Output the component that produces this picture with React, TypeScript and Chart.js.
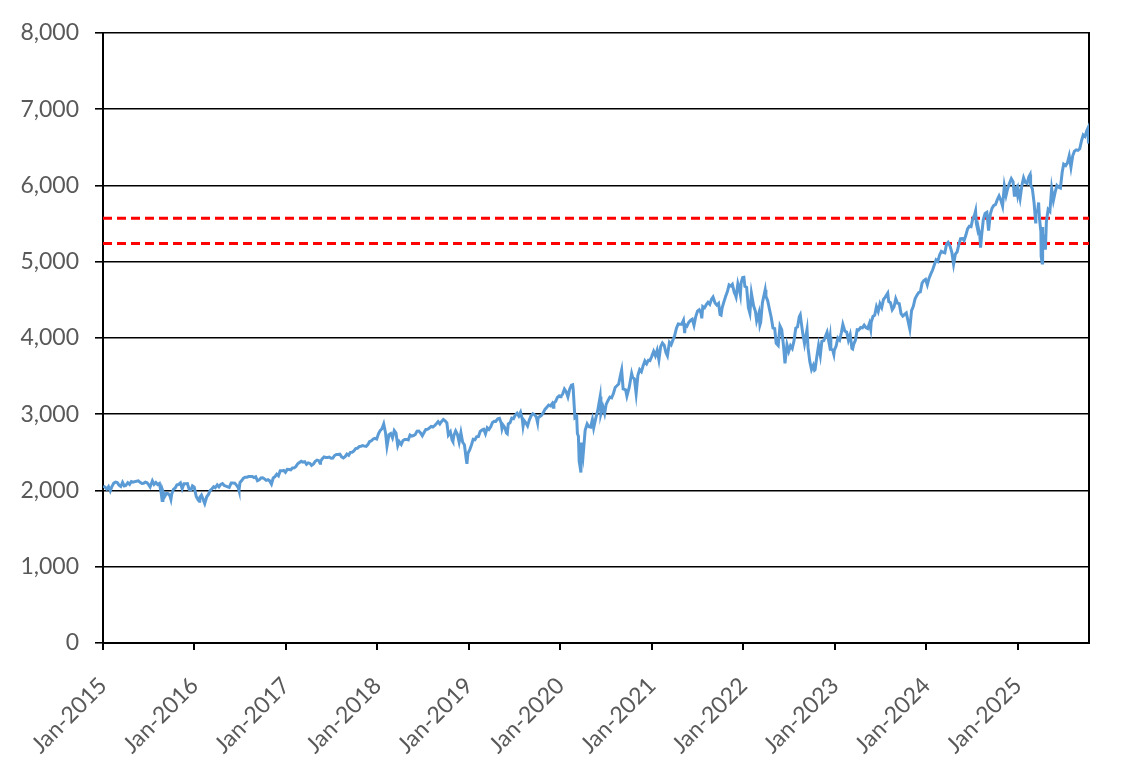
import React, { useEffect, useRef } from "react";
import { Chart, registerables } from "chart.js";

Chart.register(...registerables);

// S&P 500 index level, approximate weekly closes (dates MM-DD per year)
const dates2015: string[] = ["01-02","01-09","01-16","01-23","01-30","02-06","02-13","02-20","02-27","03-06","03-13","03-20","03-27","04-02","04-10","04-17","04-24","05-01","05-08","05-15","05-22","05-29","06-05","06-12","06-19","06-26","07-02","07-08","07-17","07-24","07-31","08-07","08-14","08-21","08-25","08-28","09-04","09-11","09-18","09-25","09-29","10-02","10-09","10-16","10-23","10-30","11-06","11-13","11-20","11-27","12-04","12-11","12-18","12-24","12-31"];
const values2015: number[] = [2058,2045,2019,2051,1995,2055,2097,2110,2104,2071,2053,2108,2061,2067,2102,2081,2117,2108,2116,2122,2126,2107,2092,2094,2110,2102,2077,2047,2127,2079,2104,2078,2092,1971,1868,1989,1921,1961,1958,1931,1884,1951,2015,2033,2075,2079,2099,2023,2089,2090,2092,2012,2006,2061,2044];

const dates2016: string[] = ["01-08","01-15","01-20","01-22","01-29","02-05","02-11","02-19","02-26","03-04","03-11","03-18","03-24","04-01","04-08","04-15","04-22","04-29","05-06","05-13","05-19","05-27","06-03","06-10","06-17","06-24","06-27","07-01","07-08","07-15","07-22","07-29","08-05","08-12","08-19","08-26","09-02","09-09","09-16","09-23","09-30","10-07","10-14","10-21","10-28","11-04","11-11","11-18","11-25","12-02","12-09","12-16","12-23","12-30"];
const values2016: number[] = [1922,1880,1859,1907,1940,1880,1829,1918,1948,2000,2022,2050,2036,2073,2048,2081,2092,2065,2057,2047,2040,2099,2099,2096,2071,2037,2001,2103,2130,2162,2175,2174,2183,2184,2184,2169,2180,2128,2139,2165,2168,2153,2133,2141,2126,2085,2164,2182,2213,2192,2259,2258,2264,2239];

const dates2017: string[] = ["01-06","01-13","01-20","01-27","02-03","02-10","02-17","02-24","03-03","03-10","03-17","03-24","03-31","04-07","04-13","04-21","04-28","05-05","05-12","05-17","05-19","05-26","06-02","06-09","06-16","06-23","06-30","07-07","07-14","07-21","07-28","08-04","08-11","08-18","08-25","09-01","09-08","09-15","09-22","09-29","10-06","10-13","10-20","10-27","11-03","11-10","11-17","11-24","12-01","12-08","12-15","12-22","12-29"];
const values2017: number[] = [2277,2275,2271,2295,2297,2316,2351,2367,2383,2372,2378,2344,2363,2355,2329,2349,2384,2399,2391,2357,2382,2416,2439,2432,2433,2438,2423,2425,2459,2473,2472,2477,2441,2426,2444,2477,2461,2500,2502,2519,2549,2553,2575,2581,2588,2582,2579,2602,2642,2652,2675,2683,2674];

const dates2018: string[] = ["01-05","01-12","01-19","01-26","02-02","02-08","02-16","02-23","03-02","03-09","03-16","03-23","03-29","04-06","04-13","04-20","04-27","05-04","05-11","05-18","05-25","06-01","06-08","06-15","06-22","06-29","07-06","07-13","07-20","07-27","08-03","08-10","08-17","08-24","08-31","09-07","09-14","09-21","09-28","10-05","10-11","10-19","10-26","10-29","11-02","11-09","11-16","11-23","11-30","12-07","12-14","12-21","12-24","12-28","12-31"];
const values2018: number[] = [2743,2786,2810,2873,2762,2581,2732,2747,2691,2786,2752,2588,2641,2604,2656,2670,2670,2663,2728,2713,2721,2735,2779,2780,2755,2718,2760,2801,2802,2819,2840,2833,2850,2875,2902,2872,2905,2930,2914,2886,2728,2768,2658,2641,2723,2781,2736,2633,2760,2633,2600,2417,2351,2486,2507];

const dates2019: string[] = ["01-04","01-11","01-18","01-25","02-01","02-08","02-15","02-22","03-01","03-08","03-15","03-22","03-29","04-05","04-12","04-18","04-26","05-03","05-10","05-13","05-17","05-24","05-31","06-03","06-07","06-14","06-21","06-28","07-05","07-12","07-19","07-26","08-02","08-05","08-09","08-16","08-23","08-30","09-06","09-13","09-20","09-27","10-02","10-04","10-11","10-18","10-25","11-01","11-08","11-15","11-22","11-29","12-03","12-06","12-13","12-20","12-27","12-31"];
const values2019: number[] = [2532,2596,2671,2665,2707,2708,2775,2793,2804,2743,2822,2801,2834,2893,2907,2905,2940,2946,2881,2812,2860,2826,2752,2744,2873,2887,2950,2942,2990,3014,2977,3026,2932,2844,2919,2889,2847,2926,2979,3007,2992,2962,2888,2953,2970,2986,3023,3067,3093,3120,3110,3141,3093,3146,3169,3221,3240,3231];

const dates2020: string[] = ["01-03","01-10","01-17","01-24","01-31","02-07","02-14","02-19","02-21","02-28","03-06","03-09","03-13","03-16","03-20","03-23","03-26","04-01","04-09","04-17","04-24","05-01","05-08","05-13","05-22","05-29","06-08","06-11","06-19","06-26","07-02","07-10","07-17","07-24","07-31","08-07","08-14","08-21","08-28","09-02","09-08","09-18","09-23","10-02","10-12","10-16","10-23","10-30","11-06","11-13","11-20","11-27","12-04","12-11","12-18","12-24","12-31"];
const values2020: number[] = [3235,3265,3330,3295,3226,3328,3380,3386,3338,2954,2972,2747,2711,2386,2305,2237,2630,2471,2790,2875,2837,2831,2930,2820,2955,3044,3232,3002,3098,3009,3130,3185,3225,3216,3271,3351,3373,3397,3508,3580,3332,3319,3237,3348,3535,3484,3465,3270,3510,3585,3558,3638,3699,3663,3709,3703,3756];

const dates2021: string[] = ["01-08","01-15","01-22","01-29","02-05","02-12","02-19","02-26","03-04","03-12","03-19","03-26","04-01","04-09","04-16","04-23","04-30","05-07","05-12","05-14","05-21","05-28","06-04","06-11","06-18","06-25","07-02","07-09","07-16","07-19","07-23","07-30","08-06","08-13","08-20","08-27","09-02","09-10","09-17","09-24","09-30","10-04","10-08","10-15","10-22","10-29","11-05","11-12","11-18","11-26","11-30","12-03","12-10","12-17","12-20","12-23","12-29"];
const values2021: number[] = [3825,3768,3841,3714,3887,3934,3907,3811,3768,3943,3913,3975,4020,4129,4185,4180,4181,4232,4063,4174,4156,4204,4230,4247,4166,4281,4352,4370,4327,4258,4412,4395,4437,4468,4442,4509,4537,4459,4433,4455,4308,4300,4391,4471,4545,4605,4697,4682,4704,4595,4567,4538,4712,4620,4568,4725,4793];

const dates2022: string[] = ["01-03","01-07","01-14","01-21","01-27","02-02","02-11","02-18","02-23","03-04","03-08","03-11","03-18","03-29","04-01","04-08","04-14","04-22","04-29","05-06","05-12","05-20","05-27","06-03","06-10","06-16","06-24","07-01","07-08","07-15","07-22","07-29","08-05","08-12","08-16","08-19","08-26","09-02","09-12","09-16","09-23","09-30","10-07","10-12","10-14","10-21","10-28","11-04","11-10","11-18","11-25","12-01","12-09","12-13","12-16","12-23","12-28","12-30"];
const values2022: number[] = [4796,4677,4663,4398,4326,4589,4419,4349,4225,4329,4170,4204,4463,4632,4546,4488,4393,4272,4132,4123,3930,3901,4158,4109,3901,3667,3912,3825,3899,3863,3962,4130,4145,4280,4305,4228,4058,3924,4110,3873,3693,3586,3640,3577,3583,3752,3901,3771,3956,3965,4026,4076,3934,4019,3852,3845,3783,3840];

const dates2023: string[] = ["01-06","01-13","01-20","01-27","02-02","02-10","02-17","02-24","03-03","03-10","03-13","03-17","03-24","03-31","04-06","04-14","04-21","04-28","05-05","05-12","05-19","05-24","05-26","06-02","06-09","06-16","06-23","06-30","07-07","07-14","07-21","07-31","08-04","08-11","08-18","08-25","09-01","09-08","09-15","09-22","09-29","10-06","10-13","10-20","10-27","11-03","11-10","11-17","11-24","12-01","12-08","12-15","12-22","12-29"];
const values2023: number[] = [3895,3999,3972,4071,4179,4090,4079,3970,4045,3862,3855,3917,3971,4109,4105,4138,4133,4169,4136,4124,4192,4115,4205,4282,4299,4410,4348,4450,4399,4505,4536,4589,4478,4464,4370,4406,4515,4457,4450,4320,4288,4308,4327,4224,4117,4358,4415,4514,4559,4595,4604,4719,4754,4770];

const dates2024: string[] = ["01-05","01-12","01-19","01-26","02-02","02-09","02-16","02-23","03-01","03-08","03-15","03-22","03-28","04-05","04-12","04-19","04-26","05-03","05-10","05-17","05-24","05-31","06-07","06-14","06-21","06-28","07-05","07-12","07-16","07-19","07-24","07-26","08-02","08-05","08-09","08-16","08-23","08-30","09-06","09-13","09-20","09-27","10-04","10-11","10-18","10-25","11-01","11-08","11-15","11-22","11-29","12-06","12-13","12-18","12-20","12-27","12-31"];
const values2024: number[] = [4697,4784,4840,4891,4959,5026,5006,5089,5137,5124,5117,5234,5254,5204,5123,4967,5100,5128,5223,5303,5305,5278,5347,5432,5465,5460,5567,5615,5667,5505,5427,5459,5346,5186,5344,5554,5634,5648,5408,5626,5703,5738,5751,5815,5864,5808,5729,5995,5870,5969,6032,6090,6051,5872,5930,5971,5882];

const dates2025: string[] = ["01-03","01-10","01-17","01-24","01-31","02-07","02-14","02-19","02-21","02-28","03-07","03-13","03-14","03-21","03-25","03-28","04-03","04-04","04-08","04-09","04-11","04-17","04-21","04-25","05-02","05-09","05-16","05-23","05-30","06-06","06-13","06-20","06-27","07-03","07-11","07-18","07-25","08-01","08-08","08-15","08-22","08-29","09-05","09-12","09-19","09-26","10-03","10-08","10-10"];
const values2025: number[] = [5942,5827,5997,6101,6040,6026,6115,6144,6013,5955,5770,5521,5639,5667,5777,5581,5397,5074,4982,5457,5363,5283,5158,5525,5686,5660,5958,5803,5912,6000,5977,5967,6173,6279,6260,6297,6389,6238,6389,6450,6467,6460,6482,6584,6664,6644,6716,6753,6552];

// Reference levels (red dashed)
const upperLevel = 5570;
const lowerLevel = 5240;

// X-axis
const startYear = 2015;
const endDate = "2025-10-12";
const tickYears: number[] = [2015, 2016, 2017, 2018, 2019, 2020, 2021, 2022, 2023, 2024, 2025];

// Y-axis
const yMin = 0;
const yMax = 8000;
const yStep = 1000;

const yearBlocks: [number, string[], number[]][] = [
  [2015, dates2015, values2015],
  [2016, dates2016, values2016],
  [2017, dates2017, values2017],
  [2018, dates2018, values2018],
  [2019, dates2019, values2019],
  [2020, dates2020, values2020],
  [2021, dates2021, values2021],
  [2022, dates2022, values2022],
  [2023, dates2023, values2023],
  [2024, dates2024, values2024],
  [2025, dates2025, values2025],
];

function toYear(s: string): number {
  const [y, m, d] = s.split("-").map(Number);
  const start = Date.UTC(y, 0, 1);
  const end = Date.UTC(y + 1, 0, 1);
  return y + (Date.UTC(y, m - 1, d) - start) / (end - start);
}

const FONT = { family: "Lato, 'Noto Sans', sans-serif", size: 23 };
const LABEL_COLOR = "#595959";

export default function App() {
  const ref = useRef<HTMLCanvasElement | null>(null);

  useEffect(() => {
    document.body.style.margin = "0";
    if (!ref.current) return;
    const xMax = toYear(endDate);
    const series: { x: number; y: number }[] = [];
    yearBlocks.forEach(([yr, ds, vs]) => {
      ds.forEach((md, i) => series.push({ x: toYear(yr + "-" + md), y: vs[i] }));
    });
    const chart = new Chart(ref.current, {
      type: "line",
      data: {
        datasets: [
          {
            data: series,
            borderColor: "#5B9BD5",
            borderWidth: 3,
            pointRadius: 0,
            tension: 0,
            order: 0,
          },
          {
            data: [{ x: startYear, y: upperLevel }, { x: xMax, y: upperLevel }],
            borderColor: "#FF0000",
            borderWidth: 3,
            borderDash: [9, 5],
            pointRadius: 0,
            order: 1,
          },
          {
            data: [{ x: startYear, y: lowerLevel }, { x: xMax, y: lowerLevel }],
            borderColor: "#FF0000",
            borderWidth: 3,
            borderDash: [9, 5],
            pointRadius: 0,
            order: 1,
          },
        ],
      },
      options: {
        animation: false,
        responsive: true,
        maintainAspectRatio: false,
        layout: { padding: { top: 33, left: 0, right: 0, bottom: 0 } },
        plugins: { legend: { display: false }, tooltip: { enabled: false } },
        scales: {
          x: {
            type: "linear",
            min: startYear,
            max: xMax,
            afterBuildTicks: (scale: any) => {
              scale.ticks = tickYears.map((v) => ({ value: v }));
            },
            afterFit: (scale: any) => {
              scale.height = 126;
            },
            ticks: {
              autoSkip: false,
              minRotation: 45,
              maxRotation: 45,
              padding: 22,
              color: LABEL_COLOR,
              font: FONT,
              callback: (v: any) => "Jan-" + Math.round(Number(v)),
            },
            grid: {
              drawOnChartArea: false,
              drawTicks: true,
              tickLength: 7,
              color: "#000",
              lineWidth: 2,
            },
            border: { color: "#000", width: 2 },
          },
          y: {
            min: yMin,
            max: yMax,
            afterFit: (scale: any) => {
              scale.width = 103;
            },
            ticks: {
              stepSize: yStep,
              padding: 16,
              color: LABEL_COLOR,
              font: FONT,
              callback: (v: any) => Number(v).toLocaleString("en-US"),
            },
            grid: { color: "#000", lineWidth: 1.6, tickLength: 8 },
            border: { color: "#000", width: 2 },
          },
          y2: {
            position: "right",
            min: yMin,
            max: yMax,
            afterFit: (scale: any) => {
              scale.width = 55;
            },
            ticks: { display: false },
            grid: { drawOnChartArea: false, drawTicks: false },
            border: { display: true, color: "#000", width: 2 },
          },
        },
      },
    } as any);
    return () => chart.destroy();
  }, []);

  return (
    <div style={{ position: "relative", width: 1144, height: 769 }}>
      <canvas ref={ref} />
    </div>
  );
}
